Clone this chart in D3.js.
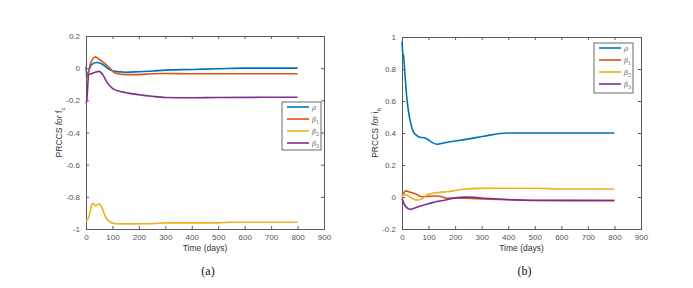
<!DOCTYPE html>
<html>
<head>
<meta charset="utf-8">
<script src="https://cdn.jsdelivr.net/npm/d3@7"></script>
<style>
body { margin:0; background:#fff; }
svg text { font-family: "Liberation Sans", Arial, sans-serif; }
</style>
</head>
<body>
<div id="chart"></div>
<script>
// PRCC values over time
var legendNames=["ρ","β1","β2","β3"];
var colors=["#0072BD","#D95319","#EDB120","#7E2F8E"];
var xTicks=[0,100,200,300,400,500,600,700,800,900];
var yTicksA=[0.2,0,-0.2,-0.4,-0.6,-0.8,-1];
var yTicksB=[1,0.8,0.6,0.4,0.2,0,-0.2];

// panel (a): f_c
var rhoA_t=[0,3,8,20,40,55,70,90,110,150,200,250,300,400,500,600,800];
var rhoA_v=[0.01,-0.05,-0.03,0.02,0.035,0.03,0.015,-0.01,-0.02,-0.025,-0.022,-0.018,-0.012,-0.008,-0.004,0,0];
var b1A_t=[0,5,15,25,35,50,70,90,110,150,200,250,300,400,500,800];
var b1A_v=[-0.04,-0.06,0.02,0.055,0.07,0.055,0.03,0,-0.03,-0.04,-0.04,-0.035,-0.033,-0.035,-0.035,-0.035];
var b2A_t=[0,10,20,27,35,50,60,75,90,110,150,250,300,500,550,800];
var b2A_v=[-0.95,-0.93,-0.86,-0.838,-0.855,-0.845,-0.865,-0.93,-0.955,-0.967,-0.968,-0.967,-0.962,-0.962,-0.958,-0.958];
var b3A_t=[0,3,10,20,35,50,65,80,100,130,160,200,250,300,400,500,800];
var b3A_v=[-0.22,-0.2,-0.04,-0.035,-0.025,-0.02,-0.045,-0.09,-0.125,-0.145,-0.155,-0.165,-0.175,-0.182,-0.184,-0.182,-0.181];

// panel (b): i_h
var rhoB_t=[0,3,6,11,17,24,33,42,55,68,85,100,115,131,150,181,240,307,396,450,560,800];
var rhoB_v=[0.97,0.9,0.88,0.77,0.64,0.54,0.46,0.41,0.385,0.373,0.37,0.356,0.34,0.33,0.335,0.345,0.36,0.38,0.40,0.40,0.40,0.40];
var b1B_t=[0,5,15,30,50,74,100,125,150,169,200,300,400,500,800];
var b1B_v=[0,0.02,0.038,0.03,0.02,0.002,0.004,0.006,0.002,-0.008,-0.006,-0.012,-0.017,-0.02,-0.02];
var b2B_t=[0,8,18,35,55,70,93,120,169,231,296,400,500,600,800];
var b2B_v=[0,0.015,0.0125,-0.005,-0.019,-0.015,0.0125,0.025,0.033,0.048,0.054,0.055,0.055,0.05,0.05];
var b3B_t=[0,10,20,30,45,60,80,100,130,160,207,240,300,400,500,800];
var b3B_v=[-0.01,-0.05,-0.07,-0.077,-0.07,-0.062,-0.052,-0.042,-0.028,-0.02,-0.004,-0.001,-0.006,-0.016,-0.022,-0.023];

var W=693, H=288;
var svg=d3.select("#chart").append("svg")
    .attr("width",W).attr("height",H);

function pairs(t,v) { return t.map(function(d,i) { return [d,v[i]]; }); }

function drawPanel(opt) {
    var x=d3.scaleLinear().domain([0,900]).range([opt.left,opt.right]);
    var y=d3.scaleLinear().domain(opt.ydom).range([opt.bottom,opt.top]);
    var g=svg.append("g");
    var axcol="#5a5a5a";

    // box with inward ticks on all sides
    g.append("g").attr("transform","translate(0,"+opt.bottom+")")
        .call(d3.axisBottom(x).tickValues(xTicks).tickSize(-3).tickPadding(5).tickFormat(d3.format("d")));
    g.append("g").attr("transform","translate(0,"+opt.top+")")
        .call(d3.axisTop(x).tickValues(xTicks).tickSize(-3).tickFormat(""));
    g.append("g").attr("transform","translate("+opt.left+",0)")
        .call(d3.axisLeft(y).tickValues(opt.yticks).tickSize(-3).tickPadding(6)
            .tickFormat(function(d) { return String(+d.toFixed(1)); }));
    g.append("g").attr("transform","translate("+opt.right+",0)")
        .call(d3.axisRight(y).tickValues(opt.yticks).tickSize(-3).tickFormat(""));
    g.selectAll(".domain").attr("stroke",axcol).attr("stroke-width",1);
    g.selectAll(".tick line").attr("stroke",axcol);
    g.selectAll(".tick text").attr("fill","#555").style("font-size","8px");

    var line=d3.line()
        .x(function(d) { return x(d[0]); })
        .y(function(d) { return y(d[1]); })
        .curve(d3.curveMonotoneX);
    opt.series.forEach(function(s,i) {
        g.append("path").datum(s)
            .attr("fill","none")
            .attr("stroke",colors[i])
            .attr("stroke-width",1.6)
            .attr("d",line);
    });

    // axis labels
    var cx=(opt.left+opt.right)/2, cy=(opt.top+opt.bottom)/2;
    g.append("text").attr("x",cx).attr("y",opt.bottom+22)
        .attr("text-anchor","middle").attr("fill","#333")
        .style("font-size","8.5px").text("Time (days)");
    var yl=g.append("text")
        .attr("transform","translate("+opt.ylabx+","+cy+") rotate(-90)")
        .attr("text-anchor","middle").attr("fill","#333").style("font-size","8.5px");
    yl.append("tspan").text("PRCCS ");
    yl.append("tspan").style("font-style","italic").text("for ");
    yl.append("tspan").text(opt.ysym);
    yl.append("tspan").attr("dy",3).style("font-size","6px").text(opt.ysub);

    // legend
    var lg=g.append("g");
    lg.append("rect").attr("x",opt.lx).attr("y",opt.ly)
        .attr("width",39).attr("height",opt.lh)
        .attr("fill","#fff").attr("stroke","#444").attr("stroke-width",0.8);
    legendNames.forEach(function(n,i) {
        var yy=opt.ly+5+i*opt.lstep;
        lg.append("line").attr("x1",opt.lx+5).attr("x2",opt.lx+27)
            .attr("y1",yy).attr("y2",yy)
            .attr("stroke",colors[i]).attr("stroke-width",1.6);
        var t=lg.append("text").attr("x",opt.lx+30).attr("y",yy+2.5)
            .attr("fill","#666").style("font-size","7px").style("font-style","italic")
            .style("font-family","'DejaVu Serif', serif");
        t.append("tspan").text(n.charAt(0));
        if (n.length>1) {
            t.append("tspan").attr("dy",2).style("font-size","5px").style("font-style","normal").text(n.charAt(1));
        }
    });

    // caption
    svg.append("text").attr("x",cx+3).attr("y",275)
        .attr("text-anchor","middle").attr("fill","#111")
        .style("font-family","'Liberation Serif', 'Times New Roman', serif")
        .style("font-size","12px").text(opt.caption);
}

drawPanel({
    left:86, right:324, top:36, bottom:229, ydom:[-1,0.2], yticks:yTicksA,
    series:[pairs(rhoA_t,rhoA_v),pairs(b1A_t,b1A_v),pairs(b2A_t,b2A_v),pairs(b3A_t,b3A_v)],
    ylabx:62, ysym:"f", ysub:"c",
    lx:282, ly:102, lh:48, lstep:12, caption:"(a)"
});
drawPanel({
    left:402, right:641, top:37, bottom:229, ydom:[-0.2,1], yticks:yTicksB,
    series:[pairs(rhoB_t,rhoB_v),pairs(b1B_t,b1B_v),pairs(b2B_t,b2B_v),pairs(b3B_t,b3B_v)],
    ylabx:378, ysym:"i", ysub:"h",
    lx:594, ly:43, lh:50, lstep:12, caption:"(b)"
});
</script>
</body>
</html>
